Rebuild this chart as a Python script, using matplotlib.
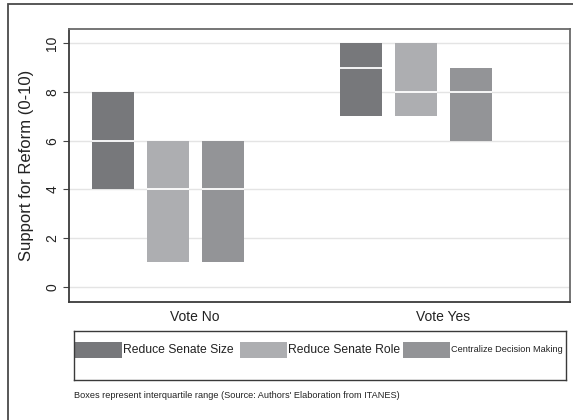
import matplotlib

matplotlib.use("Agg")
import matplotlib.pyplot as plt
import numpy as np
from matplotlib.patches import Rectangle

plt.rcParams["font.family"] = ["Liberation Sans", "DejaVu Sans"]

# interquartile boxes: lower quartile, median, upper quartile per vote group
groups = ["Vote No", "Vote Yes"]
series = ["Reduce Senate Size", "Reduce Senate Role", "Centralize Decision Making"]
q1 = [[4, 1, 1], [7, 7, 6]]
med = [[6, 4, 4], [9, 8, 8]]
q3 = [[8, 6, 6], [10, 10, 9]]
yticks = [0, 2, 4, 6, 8, 10]

colors = ["#77787b", "#adaeb1", "#939497"]
W, H = 573, 420

fig = plt.figure(figsize=(W / 100, H / 100), dpi=100)

# outer graph region border (only left and top edges fall inside the canvas)
fig.add_artist(Rectangle((8 / W, -0.1), 1.2, 1.1 - 4 / H, transform=fig.transFigure,
                         fill=False, ec="#4a4a4a", lw=1.3))

ax = fig.add_axes([69 / W, (H - 302) / H, 501 / W, 273 / H])
step, bw = 0.2218, 0.169
for g in range(len(groups)):
    for s in range(len(series)):
        xc = g + (s - 1) * step
        ax.bar(xc, q3[g][s] - q1[g][s], bw, bottom=q1[g][s], color=colors[s], zorder=2)
        ax.hlines(med[g][s], xc - bw / 2, xc + bw / 2, color="white", lw=1.3, zorder=3)

ax.set_xlim(-0.399, 1.621)
ax.set_ylim(-0.63, 10.59)
ax.set_yticks(yticks)
ax.set_yticklabels([str(v) for v in yticks], rotation=90, va="center", fontsize=10, color="#222")
ax.set_xticks(np.arange(len(groups)) + 0.11)
ax.set_xticklabels(groups, fontsize=10, color="#222")
ax.tick_params(axis="x", length=0, pad=6)
ax.tick_params(axis="y", length=4, width=0.8, color="#444", pad=3)
ax.set_ylabel("Support for Reform (0-10)", fontsize=12, color="#222", labelpad=8)
ax.grid(axis="y", color="#e4e4e4", lw=1, zorder=0)
ax.set_axisbelow(True)
for name, sp in ax.spines.items():
    sp.set_color("#3a3a3a" if name in ("left", "bottom") else "#6a6a6a")
    sp.set_linewidth(1.3)

# legend drawn as its own framed panel
lax = fig.add_axes([74 / W, (H - 380) / H, 492 / W, 49 / H])
lax.set_xlim(0, 492)
lax.set_ylim(0, 49)
lax.set_xticks([])
lax.set_yticks([])
for sp in lax.spines.values():
    sp.set_color("#3a3a3a")
    sp.set_linewidth(1.0)
key_x = [1, 166, 329]
key_fs = [8.7, 8.7, 6.6]
for s, name in enumerate(series):
    lax.add_patch(Rectangle((key_x[s], 22), 47, 16, color=colors[s], lw=0))
    lax.text(key_x[s] + 48, 30, name, fontsize=key_fs[s], va="center", ha="left", color="#222")

fig.text(74 / W, 1 - 396 / H,
         "Boxes represent interquartile range (Source: Authors' Elaboration from ITANES)",
         fontsize=6.6, va="center", ha="left", color="#222")

fig.savefig("out.png", dpi=100)
